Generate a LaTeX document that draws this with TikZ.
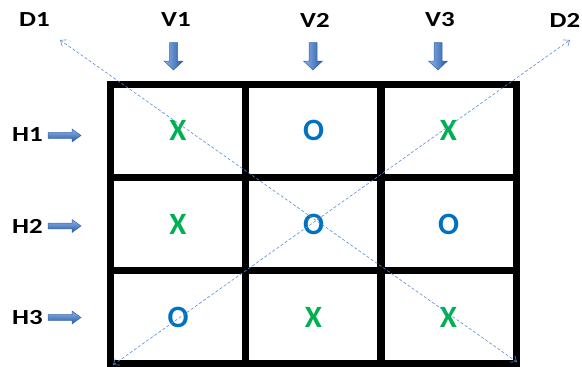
\documentclass[tikz,border=0pt]{standalone}
\usepackage{fontspec}
\setmainfont{Carlito}
\usetikzlibrary{arrows.meta}
\definecolor{xgreen}{RGB}{0,176,80}
\definecolor{oblue}{RGB}{0,112,192}
\definecolor{diagblue}{RGB}{90,140,210}
\definecolor{arrlight}{RGB}{140,180,230}
\definecolor{arrdark}{RGB}{40,90,165}
\definecolor{arrline}{RGB}{55,100,175}
\tikzset{
  cell/.style={draw=black, line width=7pt, inner sep=0pt, outer sep=0pt,
    minimum width=135.5pt, minimum height=93pt,
    font=\bfseries\fontsize{31}{35}\selectfont},
  xmark/.style={text=xgreen},
  omark/.style={text=oblue},
  lbl/.style={inner sep=0pt, font=\bfseries\fontsize{21.5}{24}\selectfont},
  diag/.style={draw=diagblue, line width=0.6pt, densely dashed,
    {Straight Barb[length=5pt,width=8pt]}-{Straight Barb[length=5pt,width=8pt]}},
  downarr/.pic={
    \shade[left color=arrlight, right color=arrdark, draw=arrline, line width=0.5pt]
      (-4,-13.5) -- (4,-13.5) -- (4,5) -- (9.5,5) -- (0,14) -- (-9.5,5) -- (-4,5) -- cycle;
  },
  rightarr/.pic={
    \shade[top color=arrlight, bottom color=arrdark, draw=arrline, line width=0.5pt]
      (-16.5,-2.8) -- (7.5,-2.8) -- (7.5,-6.5) -- (16.5,0) -- (7.5,6.5) -- (7.5,2.8) -- (-16.5,2.8) -- cycle;
  }
}
\begin{document}
\begin{tikzpicture}[x=1pt, y=-1pt]
  \useasboundingbox (0,0) rectangle (582,367);

  % the 3x3 board
  \node[cell, xmark] (c11) at (178,130.5) {X};
  \node[cell, omark] (c12) at (313.5,130.5) {O};
  \node[cell, xmark] (c13) at (448.5,130.5) {X};
  \node[cell, xmark] (c21) at (178,224) {X};
  \node[cell, omark] (c22) at (313.5,224) {O};
  \node[cell, omark] (c23) at (448.5,224) {O};
  \node[cell, omark] (c31) at (178,317) {O};
  \node[cell, xmark] (c32) at (313.5,317) {X};
  \node[cell, xmark] (c33) at (448.5,317) {X};

  % column, row and diagonal labels
  \node[lbl] (d1) at (34.5,20) {\scalebox{1.25}[1]{D1}};
  \node[lbl] (v1) at (176,20) {\scalebox{1.25}[1]{V1}};
  \node[lbl] (v2) at (315,20) {\scalebox{1.25}[1]{V2}};
  \node[lbl] (v3) at (440,20) {\scalebox{1.25}[1]{V3}};
  \node[lbl] (d2) at (565,20) {\scalebox{1.25}[1]{D2}};
  \node[lbl] (h1) at (27.5,135) {\scalebox{1.25}[1]{H1}};
  \node[lbl] (h2) at (27.5,226) {\scalebox{1.25}[1]{H2}};
  \node[lbl] (h3) at (27.5,318) {\scalebox{1.25}[1]{H3}};

  % block arrows pointing at the columns and rows
  \pic at (173.5,56) {downarr};
  \pic at (313,56) {downarr};
  \pic at (438,56) {downarr};
  \pic at (64.5,135.5) {rightarr};
  \pic at (64.5,226) {rightarr};
  \pic at (64.5,317.5) {rightarr};

  % the two diagonals
  \coordinate (d1top) at (60,40);
  \coordinate (d1bot) at (517,362);
  \coordinate (d2top) at (570,40);
  \coordinate (d2bot) at (113,365);
  \draw[diag] (d1bot) -- (d1top);
  \draw[diag] (d2bot) -- (d2top);
\end{tikzpicture}
\end{document}
